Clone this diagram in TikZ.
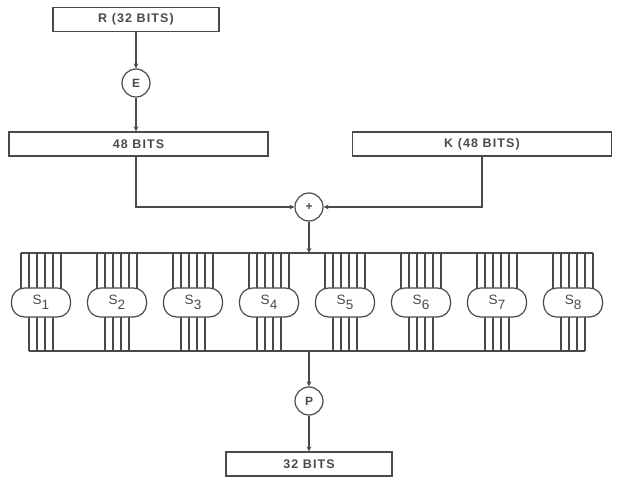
\documentclass[tikz,border=0pt]{standalone}
\usepackage{fontspec}
\setmainfont{Liberation Sans}[LetterSpace=9]
\usetikzlibrary{arrows}
\definecolor{ink}{HTML}{4A4A4A}
\tikzstyle{block}=[draw=ink,minimum height=24pt,inner sep=0pt,text=ink,font=\fontsize{12.5}{14}\selectfont\bfseries]
\tikzstyle{op}=[circle,draw=ink,minimum size=28pt,inner sep=0pt,text=ink,font=\fontsize{12}{14}\selectfont\bfseries]
\tikzstyle{sbox}=[draw=ink,fill=white,rounded corners=13pt,minimum width=59pt,minimum height=29pt,inner sep=0pt,text=ink,font=\fontsize{13.5}{15}\selectfont]
\newcommand{\sname}[1]{S\raisebox{-4.5pt}{#1}}

\begin{document}
\begin{tikzpicture}[x=1pt,y=-1pt,line width=1.2pt,draw=ink,>=stealth]
\useasboundingbox (0,0) rectangle (621,486);
\node[block,minimum width=166pt] at (136,19.5) (r) {R (32 BITS)};
\node[op] at (136,83) (e) {E};
\node[block,minimum width=259pt] at (138.5,144) (x) {48 BITS};
\node[block,minimum width=259pt] at (482,144) (k) {K (48 BITS)};
\node[op] at (309,207) (xor) {+};
\node[op] at (309,401) (p) {P};
\node[block,minimum width=166pt] at (309,464) (out) {32 BITS};
\coordinate (tl) at (21,253);
\coordinate (tr) at (593,253);
\coordinate (bl) at (29,351);
\coordinate (br) at (585,351);

\draw[->] (r) -- (e);
\draw[->] (e) -- (e |- x.north);
\draw[->] (e |- x.south) |- (xor);
\draw[->] (k.south) |- (xor);
\draw[->] (xor) -- (xor |- tl);
\draw (tl) -- (tr);
\draw (bl) -- (br);
\draw[->] (p |- bl) -- (p);
\draw[->] (p) -- (p |- out.north);

% S-boxes: six wires in, four wires out
\foreach \i in {1,...,8} {
  \coordinate (c\i) at ({41+76*(\i-1)},302.5);
  \foreach \d in {-20,-12,-4,4,12,20}
    \draw (c\i) ++(\d,0) -- ++(0,-49.5);
  \foreach \d in {-12,-4,4,12}
    \draw (c\i) ++(\d,0) -- ++(0,48.5);
  \node[sbox] at (c\i) (s\i) {\sname{\i}};
}

\end{tikzpicture}
\end{document}
